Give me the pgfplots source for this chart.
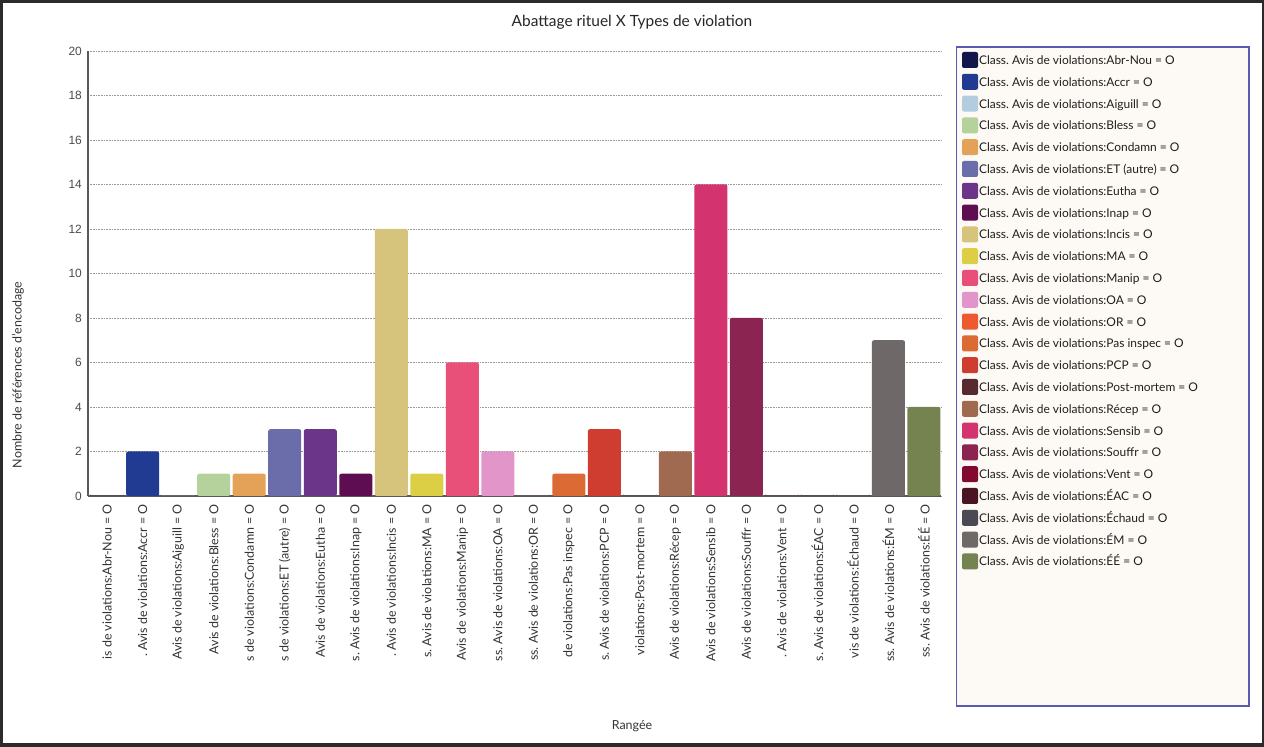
\documentclass[border=0pt]{standalone}
\usepackage{fontspec}
\setmainfont{Lato}
\newfontfamily\arialf{Liberation Sans}
\usepackage{pgfplots}
\pgfplotsset{compat=1.18}
\frenchspacing
\definecolor{frame}{HTML}{2B2B2B}
\definecolor{legbd}{HTML}{5A5AB0}
\definecolor{legbg}{HTML}{FDFAF5}
\definecolor{txt}{HTML}{333333}
\definecolor{c01}{HTML}{13164B}
\definecolor{c02}{HTML}{213B93}
\definecolor{c03}{HTML}{B3CDE0}
\definecolor{c04}{HTML}{B5D29C}
\definecolor{c05}{HTML}{E3A258}
\definecolor{c06}{HTML}{6A6DAA}
\definecolor{c07}{HTML}{6B3589}
\definecolor{c08}{HTML}{5E0D52}
\definecolor{c09}{HTML}{D6C47C}
\definecolor{c10}{HTML}{DCCF45}
\definecolor{c11}{HTML}{E8507A}
\definecolor{c12}{HTML}{E195C8}
\definecolor{c13}{HTML}{EE5A30}
\definecolor{c14}{HTML}{DB6A35}
\definecolor{c15}{HTML}{CF3D31}
\definecolor{c16}{HTML}{562A2E}
\definecolor{c17}{HTML}{A06A50}
\definecolor{c18}{HTML}{D3336E}
\definecolor{c19}{HTML}{8B2450}
\definecolor{c20}{HTML}{820A32}
\definecolor{c21}{HTML}{4A1424}
\definecolor{c22}{HTML}{4A4954}
\definecolor{c23}{HTML}{6E6868}
\definecolor{c24}{HTML}{74834F}
\pgfplotsset{
  mybar/.style={ybar, bar width=33bp, bar shift=0pt, fill=#1, draw=none, rounded corners=2bp,
    legend image code/.code={\fill[#1, rounded corners=2bp] (0bp,-3.5bp) rectangle (16bp,12.5bp);}}
}
\begin{document}
\begin{tikzpicture}[x=1bp,y=1bp]
\fill[frame] (0,0) rectangle (1264,747);
\fill[white] (3,4) rectangle (1261.5,744);
\draw[legbd, fill=legbg, line width=1.3bp] (956.5,41) rectangle (1249,700);
\node[font=\fontsize{15.5}{18}\selectfont, text=black!85] at (632,725) {Abattage rituel X Types de violation};
\node[rotate=90, font=\fontsize{12.5}{14}\selectfont, text=txt] at (18,372) {Nombre de références d'encodage};
\node[font=\fontsize{12.5}{14}\selectfont, text=txt] at (632,21) {Rangée};
\begin{axis}[
  at={(88bp,251bp)}, anchor=south west, scale only axis,
  width=853bp, height=445bp,
  xmin=-0.54, xmax=23.48, ymin=0, ymax=20,
  ytick={0,2,...,20},
  xtick={0,...,23},
  xticklabels={is de violations:Abr-Nou = O, . Avis de violations:Accr = O, Avis de violations:Aiguill = O, Avis de violations:Bless = O, s de violations:Condamn = O, s de violations:ET (autre) = O, Avis de violations:Eutha = O, s. Avis de violations:Inap = O, . Avis de violations:Incis = O, s. Avis de violations:MA = O, Avis de violations:Manip = O, ss. Avis de violations:OA = O, ss. Avis de violations:OR = O, de violations:Pas inspec = O, s. Avis de violations:PCP = O, violations:Post-mortem = O, Avis de violations:Récep = O, Avis de violations:Sensib = O, Avis de violations:Souffr = O, . Avis de violations:Vent = O, s. Avis de violations:ÉAC = O, vis de violations:Échaud = O, ss. Avis de violations:ÉM = O, ss. Avis de violations:ÉÉ = O},
  xticklabel style={yshift=-8bp, rotate=90, anchor=east, font=\fontsize{12.5}{14}\selectfont, text=txt, inner xsep=0pt},
  yticklabel style={font=\arialf\fontsize{12}{14}\selectfont, text=black!70, inner xsep=0pt, xshift=-6bp},
  /pgf/number format/assume math mode=true,
  major tick length=0pt,
  axis x line*=bottom, axis y line*=left,
  axis line style={-, draw=black!65, line width=1.5bp},
  ymajorgrids=true,
  major grid style={draw=black!40, line width=0.8bp, dash pattern=on 0.8bp off 0.8bp},
  legend cell align=left,
  legend style={at={(1,1)}, anchor=north west, xshift=21bp, yshift=-1bp, draw=none, fill=none,
    inner sep=0pt, outer sep=0pt, row sep=5.8bp, column sep=1bp,
    font=\fontsize{12}{14}\selectfont, text=black!88,
    nodes={inner sep=0pt, text depth=0pt}, cells={anchor=base west}},
  legend entries={Class. Avis de violations:Abr-Nou = O, Class. Avis de violations:Accr = O, Class. Avis de violations:Aiguill = O, Class. Avis de violations:Bless = O, Class. Avis de violations:Condamn = O, Class. Avis de violations:ET (autre) = O, Class. Avis de violations:Eutha = O, Class. Avis de violations:Inap = O, Class. Avis de violations:Incis = O, Class. Avis de violations:MA = O, Class. Avis de violations:Manip = O, Class. Avis de violations:OA = O, Class. Avis de violations:OR = O, Class. Avis de violations:Pas inspec = O, Class. Avis de violations:PCP = O, Class. Avis de violations:Post-mortem = O, Class. Avis de violations:Récep = O, Class. Avis de violations:Sensib = O, Class. Avis de violations:Souffr = O, Class. Avis de violations:Vent = O, Class. Avis de violations:ÉAC = O, Class. Avis de violations:Échaud = O, Class. Avis de violations:ÉM = O, Class. Avis de violations:ÉÉ = O},
]
\addplot[mybar=c01] coordinates {(0,0)};
\addplot[mybar=c02] coordinates {(1,2)};
\addplot[mybar=c03] coordinates {(2,0)};
\addplot[mybar=c04] coordinates {(3,1)};
\addplot[mybar=c05] coordinates {(4,1)};
\addplot[mybar=c06] coordinates {(5,3)};
\addplot[mybar=c07] coordinates {(6,3)};
\addplot[mybar=c08] coordinates {(7,1)};
\addplot[mybar=c09] coordinates {(8,12)};
\addplot[mybar=c10] coordinates {(9,1)};
\addplot[mybar=c11] coordinates {(10,6)};
\addplot[mybar=c12] coordinates {(11,2)};
\addplot[mybar=c13] coordinates {(12,0)};
\addplot[mybar=c14] coordinates {(13,1)};
\addplot[mybar=c15] coordinates {(14,3)};
\addplot[mybar=c16] coordinates {(15,0)};
\addplot[mybar=c17] coordinates {(16,2)};
\addplot[mybar=c18] coordinates {(17,14)};
\addplot[mybar=c19] coordinates {(18,8)};
\addplot[mybar=c20] coordinates {(19,0)};
\addplot[mybar=c21] coordinates {(20,0)};
\addplot[mybar=c22] coordinates {(21,0)};
\addplot[mybar=c23] coordinates {(22,7)};
\addplot[mybar=c24] coordinates {(23,4)};
\end{axis}
\end{tikzpicture}
\end{document}
